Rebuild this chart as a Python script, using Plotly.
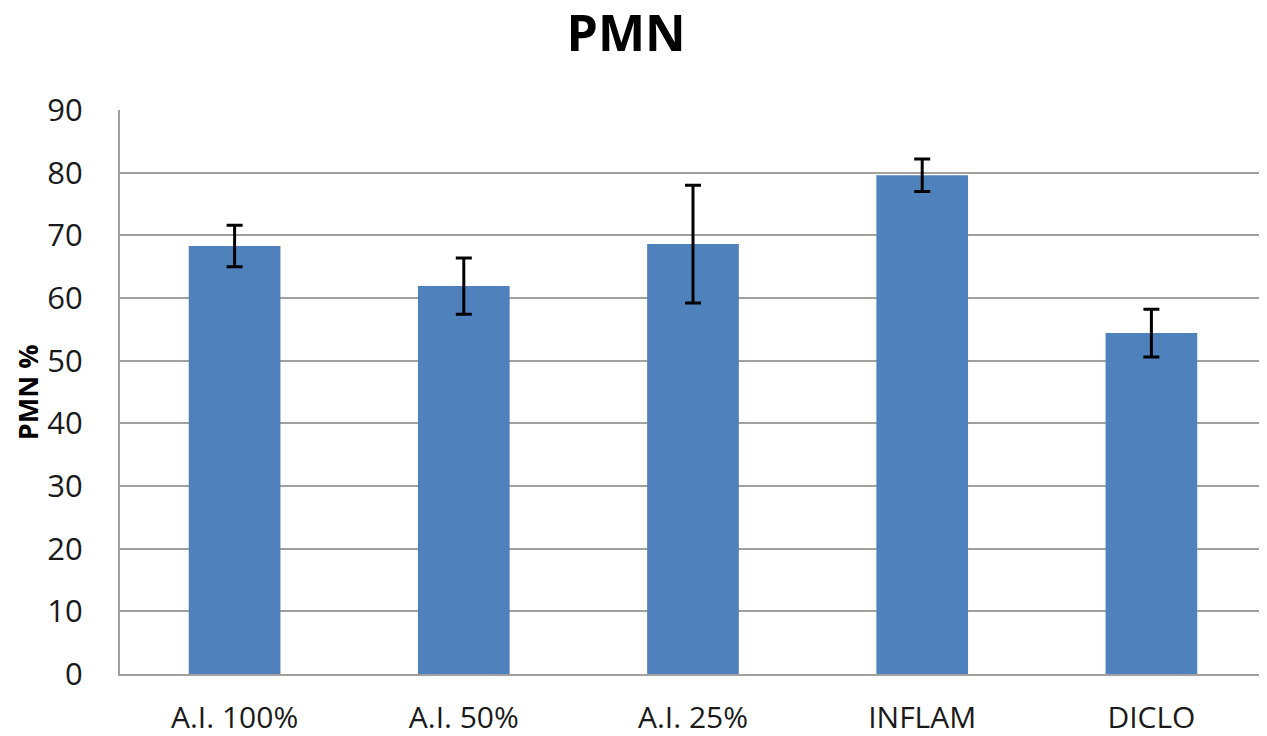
import plotly.graph_objects as go

grupos = ["A.I. 100%", "A.I. 50%", "A.I. 25%", "INFLAM", "DICLO"]
pmn = [68.3, 61.9, 68.6, 79.6, 54.4]
error = [3.3, 4.5, 9.4, 2.6, 3.8]
ticks_y = [0, 10, 20, 30, 40, 50, 60, 70, 80, 90]

fig = go.Figure()

fig.add_trace(go.Bar(
    x=grupos, y=pmn,
    marker=dict(color="#4f81bd", line=dict(width=0)),
    error_y=dict(type="data", array=error, visible=True,
                 color="black", thickness=3, width=8),
))

# la pagina tiene 8px de margen en el body, por eso 1259x728
fig.update_layout(
    width=1259, height=728,
    paper_bgcolor="white", plot_bgcolor="white",
    margin=dict(l=112, r=1, t=102, b=62),
    bargap=0.6,
    showlegend=False,
    font=dict(family="Open Sans", color="#1a1a1a"),
    title=dict(text="<b>PMN</b>", x=0.491, xanchor="center", y=1, yanchor="top",
               yref="container", pad=dict(t=8),
               font=dict(size=50, color="black", family="Open Sans")),
)

# titulo del eje y como anotacion para poder colocarlo
fig.add_annotation(
    text="<b>PMN %</b>", textangle=-90,
    xref="paper", yref="paper", x=-0.081, y=0.5,
    xanchor="center", yanchor="middle", showarrow=False,
    font=dict(size=27, color="black"),
)

fig.update_xaxes(
    showline=True, linecolor="#a0a0a0", linewidth=2,
    tickfont=dict(size=30), ticklabelstandoff=16,
    showgrid=False, automargin=False,
)
fig.update_yaxes(
    range=[0, 90], tickvals=ticks_y,
    showgrid=True, gridcolor="#a0a0a0", gridwidth=2,
    showline=True, linecolor="#a0a0a0", linewidth=2,
    zeroline=False, automargin=False,
    tickfont=dict(size=31), ticklabelstandoff=29,
)

fig.write_html("out.html")
